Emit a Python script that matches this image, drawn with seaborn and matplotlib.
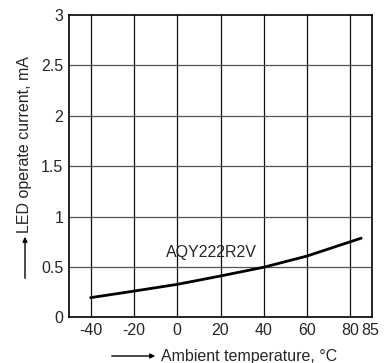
import numpy as np
import pandas as pd
import seaborn as sns
import matplotlib
matplotlib.use('Agg')
import matplotlib.pyplot as plt

# curva
temperatura = [-40, -20, 0, 20, 40, 60, 80, 85]
corrente = [0.195, 0.26, 0.327, 0.41, 0.497, 0.608, 0.75, 0.785]
xticks = [-40, -20, 0, 20, 40, 60, 80, 85]
xtick_labels = ['-40', '-20', '0', '20', '40', '60', '80', '85']
yticks = [0, 0.5, 1, 1.5, 2, 2.5, 3]
ytick_labels = ['0', '0.5', '1', '1.5', '2', '2.5', '3']
grid_x = [-40, -20, 0, 20, 40, 60, 80]
nome_modelo = 'AQY222R2V'

df = pd.DataFrame({'temp': temperatura, 'corrente': corrente})

sns.set_style('white')
plt.rcParams['font.family'] = ['Liberation Sans', 'DejaVu Sans']
FS = 11.5

fig = plt.figure(figsize=(3.88, 3.63), dpi=100)
ax = fig.add_axes([69 / 388, 1 - 317.3 / 363, (372 - 69) / 388, (317.3 - 15) / 363])

for g in grid_x:
    ax.axvline(g, color='#111111', lw=0.9, zorder=1)
for g in yticks[1:-1]:
    ax.axhline(g, color='#555555', lw=0.9, zorder=1)

sns.lineplot(data=df, x='temp', y='corrente', ax=ax, color='black', lw=2, zorder=3)

ax.set_xlim(-50, 90)
ax.set_ylim(0, 3)
ax.set_xticks(xticks)
ax.set_xticklabels(xtick_labels, fontsize=FS)
ax.set_yticks(yticks)
ax.set_yticklabels(ytick_labels, fontsize=FS)
ax.tick_params(length=0, pad=4)
labs = ax.get_xticklabels()
for lab in labs[-2:]:
    lab.set_fontfamily(['Liberation Sans Narrow', 'Liberation Sans'])
    lab.set_fontsize(FS)
labs[-1].set_ha('left')
labs[-1].set_x(84)
ax.set_xlabel('')
ax.set_ylabel('')
for s in ax.spines.values():
    s.set_color('black')
    s.set_linewidth(1.2)

ax.text(16, 0.64, nome_modelo, ha='center', va='center', fontsize=FS)

# rótulos com setas
fig.text(161 / 388, 1 - 356 / 363, 'Ambient temperature, °C', ha='left', va='center', fontsize=FS)
fig.patches.append(matplotlib.patches.FancyArrowPatch(
    (109 / 388, 1 - 356 / 363), (158 / 388, 1 - 356 / 363), transform=fig.transFigure,
    arrowstyle='-|>', mutation_scale=7, color='black', lw=1))
fig.text(25 / 388, 1 - 233 / 363, 'LED operate current, mA', rotation=90, ha='center', va='bottom', fontsize=FS)
fig.patches.append(matplotlib.patches.FancyArrowPatch(
    (25 / 388, 1 - 281 / 363), (25 / 388, 1 - 234 / 363), transform=fig.transFigure,
    arrowstyle='-|>', mutation_scale=7, color='black', lw=1))

fig.savefig('out.png', dpi=100)
